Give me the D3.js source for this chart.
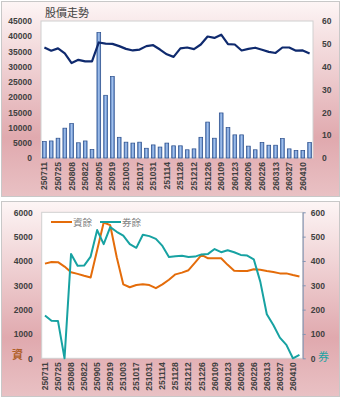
<!DOCTYPE html>
<html>
<head>
<meta charset="utf-8">
<script src="https://cdn.jsdelivr.net/npm/d3@7"></script>
<style>
  html, body { margin: 0; padding: 0; background: #fff; }
  svg { display: block; }
  text { font-family: "Liberation Sans", Arial, sans-serif; }
  .cjk { font-family: "Noto Sans CJK TC", "Noto Sans CJK SC", sans-serif; }
</style>
</head>
<body>
<div id="chart"></div>
<script>
// weekly dates (yymmdd)
var dates = ["250711","250718","250725","250801","250808","250815","250822","250829",
             "250905","250912","250919","250926","251003","251010","251017","251024",
             "251031","251107","251114","251121","251128","251205","251212","251219",
             "251226","260102","260109","260116","260123","260130","260206","260213",
             "260226","260306","260313","260320","260327","260403","260410","260417"];

// top chart: volume bars (left axis) and price line (right axis)
var volume = [5400,5600,6500,9800,11300,5000,5600,2800,41200,20600,26800,6800,5200,4900,5200,3200,
              4300,3600,4900,4000,4000,2700,3000,6800,11800,6500,14800,10000,7600,7600,3900,2700,
              5100,4200,4200,6400,3000,2500,2500,5100];
var price = [48.4,47.0,48.0,45.8,41.6,43.0,42.3,42.3,50.6,50.1,50.0,49.0,47.8,47.1,47.5,49.0,
             49.4,47.5,45.4,44.3,48.0,48.4,47.7,49.7,53.2,52.6,54.0,49.9,49.7,47.1,47.8,48.3,
             47.4,46.5,46.0,48.4,48.4,47.0,47.1,45.8];

// bottom chart: margin balance 資餘 (left axis) and short balance 券餘 (right axis)
var margin = [3890,3960,3950,3770,3540,3470,3390,3320,4450,5580,5470,4150,3040,2920,3010,3040,
              3010,2880,3040,3230,3450,3520,3620,3930,4250,4110,4110,4110,3840,3600,3590,3590,
              3660,3640,3590,3550,3490,3490,3420,3360];
var shortBal = [176,154,153,0,429,380,381,418,527,469,539,520,504,469,454,508,
                502,491,462,416,419,421,416,418,427,429,449,436,444,436,425,422,
                407,315,181,137,85,55,0,14];

var volTicks = [0,5000,10000,15000,20000,25000,30000,35000,40000,45000];
var priceTicks = [0,10,20,30,40,50,60];
var marginTicks = [0,1000,2000,3000,4000,5000,6000];
var shortTicks = [0,100,200,300,400,500,600];

var W = 341, H = 398;
var svg = d3.select("#chart").append("svg").attr("width", W).attr("height", H);

var defs = svg.append("defs");
var bg = defs.append("linearGradient").attr("id", "bg").attr("x1", 0).attr("y1", 0).attr("x2", 0).attr("y2", 1);
bg.append("stop").attr("offset", "0%").attr("stop-color", "#fdf5f5");
bg.append("stop").attr("offset", "70%").attr("stop-color", "#e0a9ae");
bg.append("stop").attr("offset", "100%").attr("stop-color", "#e9c1c4");

var barG = defs.append("linearGradient").attr("id", "barg").attr("x1", 0).attr("y1", 0).attr("x2", 1).attr("y2", 0);
barG.append("stop").attr("offset", "0%").attr("stop-color", "#4f7cc0");
barG.append("stop").attr("offset", "50%").attr("stop-color", "#a8c5ee");
barG.append("stop").attr("offset", "100%").attr("stop-color", "#4f7cc0");

// panels
svg.append("rect").attr("x", 1.5).attr("y", 1.5).attr("width", 338).attr("height", 195)
   .attr("fill", "url(#bg)").attr("stroke", "#c8c8c8");
svg.append("rect").attr("x", 1.5).attr("y", 201.5).attr("width", 338).attr("height", 195)
   .attr("fill", "url(#bg)").attr("stroke", "#c8c8c8");

var axisTxt = function (g) {
  g.selectAll("text").attr("fill", "#404040").style("font-size", "8.5px").style("font-weight", "bold");
};

// ---------------- top chart ----------------
var t = {left: 41, right: 313, top: 21, bottom: 158};
svg.append("rect").attr("x", t.left).attr("y", t.top).attr("width", t.right - t.left)
   .attr("height", t.bottom - t.top).attr("fill", "#fff").attr("stroke", "#d0d0d0");

svg.append("text").attr("class", "cjk").attr("x", 45).attr("y", 17)
   .attr("fill", "#404040").style("font-size", "11px").text("股價走勢");

var x1 = d3.scaleBand().domain(dates).range([t.left, t.right]);
var yVol = d3.scaleLinear().domain([0, 45000]).range([t.bottom, t.top]);
var yPrice = d3.scaleLinear().domain([0, 60]).range([t.bottom, t.top]);

svg.append("g").attr("transform", "translate(" + (t.left - 6) + ",0)")
   .call(d3.axisLeft(yVol).tickValues(volTicks).tickSize(0).tickFormat(d3.format("d")))
   .call(function (g) { g.select(".domain").remove(); })
   .call(axisTxt);
svg.append("g").attr("transform", "translate(" + (t.right + 6) + ",0)")
   .call(d3.axisRight(yPrice).tickValues(priceTicks).tickSize(0))
   .call(function (g) { g.select(".domain").remove(); })
   .call(axisTxt);

var bw = x1.bandwidth() * 0.55;
svg.append("g").selectAll("rect").data(dates).enter().append("rect")
   .attr("x", function (d) { return x1(d) + (x1.bandwidth() - bw) / 2; })
   .attr("y", function (d, i) { return yVol(volume[i]); })
   .attr("width", bw)
   .attr("height", function (d, i) { return t.bottom - yVol(volume[i]); })
   .attr("fill", "url(#barg)").attr("stroke", "#2a4d8a").attr("stroke-width", 0.7);

svg.append("path").datum(price)
   .attr("fill", "none").attr("stroke", "#0f2a6e").attr("stroke-width", 2.2)
   .attr("stroke-linejoin", "round")
   .attr("d", d3.line().x(function (d, i) { return x1(dates[i]) + x1.bandwidth() / 2; })
                       .y(function (d) { return yPrice(d); }));

var xLabels = function (g) {
  g.select(".domain").remove();
  g.selectAll("text").attr("transform", "rotate(-90)").attr("text-anchor", "end")
   .attr("x", -4).attr("y", 0).attr("dy", "0.35em");
  axisTxt(g);
};
var everyOther = dates.filter(function (d, i) { return i % 2 === 0; });
svg.append("g").attr("transform", "translate(0," + t.bottom + ")")
   .call(d3.axisBottom(x1).tickValues(everyOther).tickSize(0))
   .call(xLabels);

// ---------------- bottom chart ----------------
var b = {left: 41.7, right: 302.7, top: 212.3, bottom: 358.3};
svg.append("rect").attr("x", b.left).attr("y", b.top).attr("width", b.right - b.left)
   .attr("height", b.bottom - b.top).attr("fill", "#fff").attr("stroke", "#d0d0d0");

var x2 = d3.scaleBand().domain(dates).range([b.left, b.right]);
var yMar = d3.scaleLinear().domain([0, 6000]).range([b.bottom, b.top]);
var yShort = d3.scaleLinear().domain([0, 600]).range([b.bottom, b.top]);

svg.append("g").attr("transform", "translate(" + (b.left - 6) + ",0)")
   .call(d3.axisLeft(yMar).tickValues(marginTicks).tickSize(0).tickFormat(d3.format("d")))
   .call(function (g) { g.select(".domain").remove(); })
   .call(axisTxt);
svg.append("g").attr("transform", "translate(" + b.right + ",0)")
   .call(d3.axisRight(yShort).tickValues(shortTicks).tickSizeInner(3).tickSizeOuter(0).tickPadding(5))
   .call(function (g) {
     g.select(".domain").attr("stroke", "#8193b2");
     g.selectAll(".tick line").attr("stroke", "#8193b2");
   })
   .call(axisTxt);

svg.append("g").attr("transform", "translate(0," + b.bottom + ")")
   .call(d3.axisBottom(x2).tickValues(everyOther).tickSize(0))
   .call(xLabels);

var cx2 = function (d, i) { return x2(dates[i]) + x2.bandwidth() / 2; };
svg.append("path").datum(margin)
   .attr("fill", "none").attr("stroke", "#e46c0a").attr("stroke-width", 2)
   .attr("stroke-linejoin", "round")
   .attr("d", d3.line().x(cx2).y(function (d) { return yMar(d); }));
svg.append("path").datum(shortBal)
   .attr("fill", "none").attr("stroke", "#17a2a2").attr("stroke-width", 2)
   .attr("stroke-linejoin", "round")
   .attr("d", d3.line().x(cx2).y(function (d) { return yShort(d); }));

// axis side markers
svg.append("text").attr("class", "cjk").attr("x", 12).attr("y", 359)
   .attr("fill", "#b0602a").style("font-size", "11px").style("font-weight", "bold").text("資");
svg.append("text").attr("class", "cjk").attr("x", 318).attr("y", 361)
   .attr("fill", "#17a2a2").style("font-size", "11px").text("券");

// legend
var legend = [{name: "資餘", color: "#e46c0a", x: 51}, {name: "券餘", color: "#17a2a2", x: 100}];
var lg = svg.append("g").selectAll("g").data(legend).enter().append("g");
lg.append("line").attr("x1", function (d) { return d.x; }).attr("x2", function (d) { return d.x + 21; })
  .attr("y1", 222).attr("y2", 222).attr("stroke", function (d) { return d.color; }).attr("stroke-width", 2);
lg.append("text").attr("class", "cjk").attr("x", function (d) { return d.x + 22; }).attr("y", 226)
  .attr("fill", "#7f7f7f").style("font-size", "9.5px").text(function (d) { return d.name; });
</script>
</body>
</html>
